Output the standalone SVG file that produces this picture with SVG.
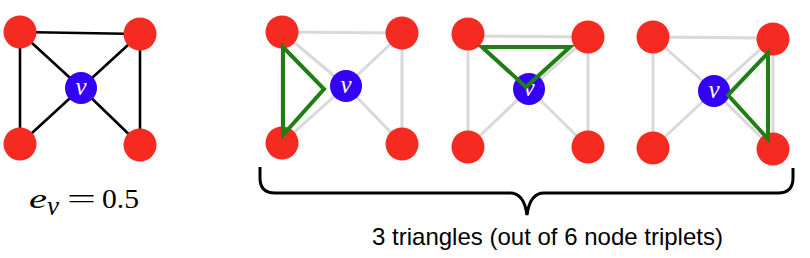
<svg xmlns="http://www.w3.org/2000/svg" width="810" height="258" viewBox="0 0 810 258">
<style>
.e{stroke:#000;stroke-width:2.6;fill:none}
.g{stroke:#d9d9d9;stroke-width:3;fill:none}
.t{stroke:#1f7f12;stroke-width:4;fill:none;stroke-linejoin:miter}
.r{fill:#f52a20}
.b{fill:#3300f5}
.vl{font-family:"Liberation Serif",serif;font-style:italic;font-size:25px;fill:#fff;text-anchor:middle}
.brace{stroke:#000;stroke-width:3;fill:none}
.cap{font-family:"Liberation Sans",Arial,sans-serif;font-size:24px;fill:#000;text-anchor:middle}
.math{font-family:"Liberation Serif",serif;font-size:28px;fill:#000}
.it{font-style:italic}
</style>
<g id="connectors">
<path class="e" d="M20,32 L140,34 M20,32 L20,144 M140,34 L140,145 M20,32 L81,88 M140,34 L81,88 M20,144 L81,88 M140,145 L81,88"/>
<path class="g" d="M282,32 L402,33 M282,32 L282,143 M402,33 L402,144 M282,32 L346,86 M402,33 L346,86 M282,143 L346,86 M402,144 L346,86"/>
<path class="g" d="M468,36 L588,37 M468,36 L468,147 M588,37 L588,147 M468,36 L529,89 M588,37 L529,89 M468,147 L529,89 M588,147 L529,89"/>
<path class="g" d="M653,37 L773,38 M653,37 L653,148 M773,38 L773,149 M653,37 L714,91 M773,38 L714,91 M653,148 L714,91 M773,149 L714,91"/>
</g>
<g id="graph1">
<circle class="r" cx="20" cy="32" r="16.5"/>
<circle class="r" cx="140" cy="34" r="16.5"/>
<circle class="r" cx="20" cy="144" r="16.5"/>
<circle class="r" cx="140" cy="145" r="16.5"/>
<circle class="b" cx="81" cy="88" r="16"/>
<text class="vl" x="81" y="95">v</text>
</g>
<g id="graph2">
<circle class="r" cx="282" cy="32" r="16.5"/>
<circle class="r" cx="402" cy="33" r="16.5"/>
<circle class="r" cx="282" cy="143" r="16.5"/>
<circle class="r" cx="402" cy="144" r="16.5"/>
<circle class="b" cx="346" cy="86" r="16"/>
<text class="vl" x="346" y="93">v</text>
<polygon class="t" points="283,47 324,89 283,135"/>
</g>
<g id="graph3">
<circle class="r" cx="468" cy="34" r="16.5"/>
<circle class="r" cx="588" cy="37" r="16.5"/>
<circle class="r" cx="468" cy="147" r="16.5"/>
<circle class="r" cx="588" cy="147" r="16.5"/>
<circle class="b" cx="529" cy="89" r="16"/>
<text class="vl" x="529" y="96">v</text>
<polygon class="t" points="482,47 570,47 526,87"/>
</g>
<g id="graph4">
<circle class="r" cx="653" cy="37" r="16.5"/>
<circle class="r" cx="773" cy="39" r="16.5"/>
<circle class="r" cx="653" cy="148" r="16.5"/>
<circle class="r" cx="773" cy="149" r="16.5"/>
<circle class="b" cx="714" cy="91" r="16"/>
<text class="vl" x="714" y="98">v</text>
<polygon class="t" points="768,53 728,95 768,139"/>
</g>
<g id="label-ev">
<text class="math it" x="29" y="208" font-size="31" textLength="18" lengthAdjust="spacingAndGlyphs">e</text>
<text class="math it" x="47" y="215" font-size="23" textLength="12" lengthAdjust="spacingAndGlyphs">v</text>
<text class="math" x="67" y="208" textLength="29" lengthAdjust="spacingAndGlyphs">=</text>
<text class="math" x="102" y="208" textLength="37" lengthAdjust="spacingAndGlyphs">0.5</text>
</g>
<g id="brace">
<path class="brace" d="M260,167 L260,178 Q260,193 275,193 L510,193 Q524,193 527,215 Q530,193 544,193 L778,193 Q793,193 793,178 L793,168"/>
<text class="cap" x="547.5" y="245">3 triangles (out of 6 node triplets)</text>
</g>
</svg>
